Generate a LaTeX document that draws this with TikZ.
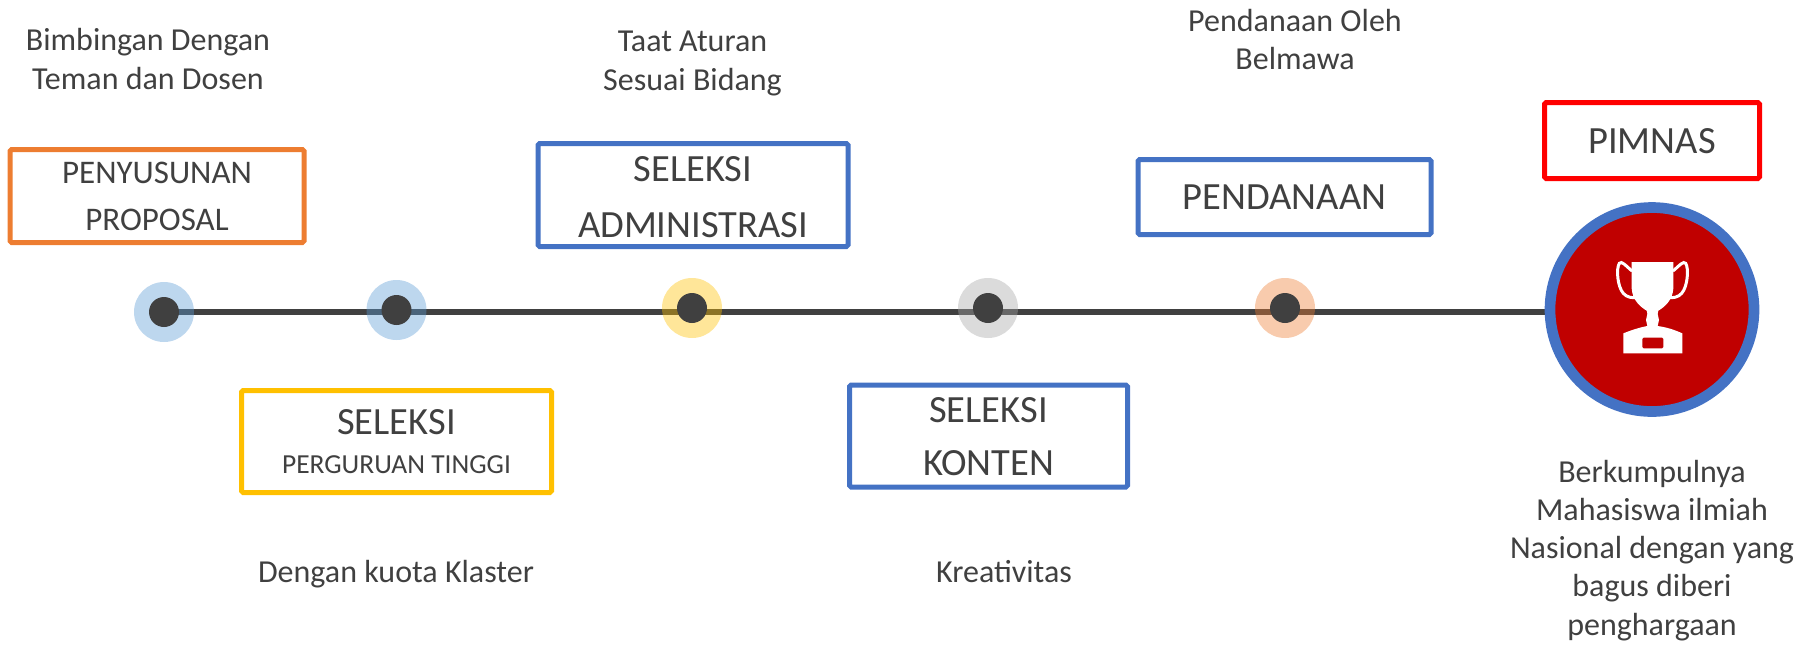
\documentclass[tikz,border=0pt]{standalone}
\usepackage{fontspec}
\usetikzlibrary{backgrounds}
\setmainfont{Carlito}
\definecolor{ink}{HTML}{404040}
\definecolor{cblue}{HTML}{4472C4}
\definecolor{corange}{HTML}{ED7D31}
\definecolor{cyellow}{HTML}{FFC000}
\definecolor{cred}{HTML}{FF0000}
\definecolor{cdark}{HTML}{C00000}
\definecolor{hblue}{HTML}{5B9BD5}
\definecolor{hgrey}{HTML}{A5A5A5}
\newdimen\pxu \pxu=0.5pt
% #1 raise in px of the last baseline above the node centre, #2 rows
\newcommand{\btxt}[2]{\raisebox{#1\pxu}[0pt][0pt]{\begin{tabular}[b]{@{}c@{}}#2\end{tabular}}}
\newcommand{\fs}[2]{\fontsize{#1\pxu}{#2\pxu}\selectfont}
\tikzset{
  x=0.5pt,y=-0.5pt,
  lbl/.style={inner sep=0pt,text=ink},
  box/.style={draw=#1,line width=2.5pt,rounded corners=0.8pt,fill=white,inner sep=0pt,text=ink},
  halo/.style={circle,inner sep=0pt,minimum size=30pt,fill=#1,fill opacity=0.4},
  core/.style={circle,inner sep=0pt,minimum size=15pt,fill=ink},
  spine/.style={draw=ink,line width=2.6pt}
}
\begin{document}
\begin{tikzpicture}
\useasboundingbox (0,0) rectangle (1810,644);
% boxes
\node[box=corange,minimum width=147pt,minimum height=46.5pt] (b1) at (157,196)
  {\fs{33}{46.5}\btxt{-34}{PENYUSUNAN\\PROPOSAL}};
\node[box=cyellow,minimum width=155pt,minimum height=51pt] (b2) at (396.5,441.5)
  {\fs{38.5}{39}\btxt{-32}{\fs{38.5}{39}SELEKSI\\\fs{27.5}{39}PERGURUAN TINGGI}};
\node[box=cblue,minimum width=155pt,minimum height=51.5pt] (b3) at (693,195)
  {\fs{38.5}{56}\btxt{-42}{SELEKSI\\ADMINISTRASI}};
\node[box=cblue,minimum width=139pt,minimum height=51pt] (b4) at (988.5,436)
  {\fs{38.5}{53}\btxt{-39}{SELEKSI\\KONTEN}};
\node[box=cblue,minimum width=146.5pt,minimum height=37.5pt] (b5) at (1284.5,197)
  {\fs{38.5}{46}\btxt{-12.5}{PENDANAAN}};
\node[box=cred,minimum width=107.5pt,minimum height=38pt] (b6) at (1652,140.5)
  {\fs{38.5}{46}\btxt{-12.5}{PIMNAS}};
% texts above / below
\node[lbl] (t1) at (148,89) {\fs{32}{38.5}\btxt{0}{Bimbingan Dengan\\Teman dan Dosen}};
\node[lbl] (t2) at (692.5,90) {\fs{32}{38.5}\btxt{0}{Taat Aturan\\Sesuai Bidang}};
\node[lbl] (t3) at (1295,69) {\fs{32}{37.5}\btxt{0}{Pendanaan Oleh\\Belmawa}};
\node[lbl] (t4) at (396,582) {\fs{32}{38.5}\btxt{0}{Dengan kuota Klaster}};
\node[lbl] (t5) at (1004,582) {\fs{32}{38.5}\btxt{0}{Kreativitas}};
\node[lbl] (t6) at (1652,635) {\fs{32}{38.2}\btxt{0}{Berkumpulnya\\Mahasiswa ilmiah\\Nasional dengan yang\\bagus diberi\\penghargaan}};
% timeline
\node[halo=hblue] (h1) at (164,312) {};
\node[core] (d1) at (164,312) {};
\node[halo=hblue] (h2) at (396.5,310) {};
\node[core] (d2) at (396.5,310) {};
\node[halo=cyellow] (h3) at (692,308) {};
\node[core] (d3) at (692,308) {};
\node[halo=hgrey] (h4) at (988,308) {};
\node[core] (d4) at (988,308) {};
\node[halo=corange] (h5) at (1285,308) {};
\node[core] (d5) at (1285,308) {};
\node[circle,draw=cblue,fill=cdark,line width=5.35pt,inner sep=0pt,minimum size=102pt] (goal) at (1652,309.5) {};
\begin{scope}[on background layer]
\draw[spine] (d1.center) -- (d1.center -| goal.west);
\end{scope}
% trophy
\begin{scope}[shift={(1590,240)},scale=1/3]
\fill[white] (125,66) -- (250,66) -- (250,145) .. controls (248,180) and (225,200) .. (205,212)
 -- (203,222) -- (207,240) -- (203,258) .. controls (230,262) and (250,268) .. (277,280)
 -- (277,340) -- (100,340) -- (100,280) .. controls (125,270) and (150,262) .. (172,258)
 -- (168,240) -- (172,222) -- (170,212) .. controls (150,200) and (127,180) .. (125,145) -- cycle;
\draw[white,line width=1.5pt,line cap=round] (125,92) .. controls (105,75) and (95,62) .. (88,70)
 .. controls (78,85) and (82,140) .. (100,160) .. controls (110,172) and (128,175) .. (140,172);
\draw[white,line width=1.5pt,line cap=round] (250,92) .. controls (270,75) and (280,62) .. (287,70)
 .. controls (297,85) and (293,140) .. (275,160) .. controls (265,172) and (247,175) .. (235,172);
\fill[cdark] (161,293) -- (216,293) -- (220,297) -- (220,321) -- (216,325) -- (161,325) -- (157,321) -- (157,297) -- cycle;
\end{scope}
\end{tikzpicture}
\end{document}
